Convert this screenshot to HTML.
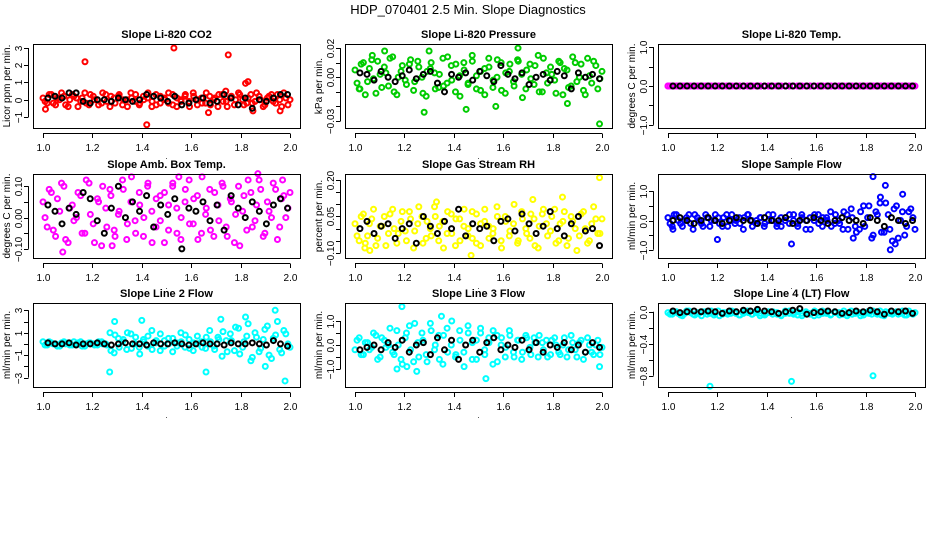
<!DOCTYPE html>
<html><head><meta charset="utf-8"><style>
html,body{margin:0;padding:0;background:#fff;}
svg{display:block;font-family:"Liberation Sans",sans-serif;}
</style></head><body>
<svg id="chart" width="936" height="540" viewBox="0 0 936 540">
<text x="468" y="14" font-size="13" text-anchor="middle">HDP_070401  2.5 Min. Slope Diagnostics</text>
</svg>
<script>
// ---- data ----
const co2Color=[0.1,-0.2,0.3,-0.3,0.0,0.2,-0.4,0.3,0.1,-0.1,0.4,-0.3,0.2,0.0,-0.2,0.3,-0.4,0.1,0.2,-0.3,0.0,0.4,-0.1,-0.3,0.2,0.1,-0.4,0.3,-0.2,0.0,0.4,-0.3,0.1,-0.1,0.3,-0.4,0.2,0.0,-0.2,0.4,-0.3,0.1,0.3,-0.1,-0.4,0.2,0.0,0.3,-0.3,0.1,-0.2,0.4,0.0,-0.3,0.2,-0.1,0.3,-0.4,0.1,0.0];
const co2ColorB=[-0.1,0.3,-0.2,0.1,0.4,-0.3,0.0,0.2,-0.4,0.1,-0.2,0.3,0.0,-0.3,0.4,-0.1,0.2,-0.2,0.3,0.0,-0.4,0.1,0.3,-0.2,0.0,0.4,-0.1,-0.3,0.2,0.1,-0.2,0.3,-0.4,0.0,0.2,-0.1,0.4,-0.3,0.1,-0.2,0.2,0.0,-0.4,0.3,-0.1,0.1,-0.3,0.4,0.0,-0.2,0.3,-0.1,0.2,-0.4,0.1,0.3,-0.2,0.0,0.4,-0.3];
const co2Black=[0.1,0.2,0.1,0.4,0.4,-0.1,-0.2,0.0,0.0,-0.1,0.1,0.0,-0.1,0.0,0.3,0.2,0.1,-0.1,0.2,-0.3,-0.2,0.0,0.1,-0.2,-0.1,0.3,0.1,-0.3,0.1,-0.5,0.0,-0.1,0.1,0.3,0.3];
const co2OutX=[1.17,1.53,1.75,1.82,1.83,1.42,1.67,1.85,1.01,1.96,1.74];
const co2OutY=[2.2,3.0,2.6,0.95,1.05,-1.45,-0.75,-0.65,-0.55,-0.65,0.5];

const presColor=[0.005,-0.008,0.010,-0.003,0.012,-0.011,0.002,0.007,-0.006,0.014,-0.012,0.004,-0.002,0.009,-0.009,0.011,0.000,-0.013,0.006,0.003,-0.007,0.013,-0.004,0.008,-0.010,0.001,0.010,-0.005,0.015,-0.008,0.004,-0.012,0.007,-0.002,0.012,-0.009,0.003,0.009,-0.006,0.011,-0.014,0.005,-0.001,0.008,-0.010,0.013,-0.004,0.002,-0.011,0.010,0.006,-0.007,0.014,-0.003,0.009,-0.012,0.001,0.011,-0.008,0.004];
const presColorB=[-0.004,0.009,-0.012,0.006,-0.001,0.011,-0.007,0.003,0.013,-0.010,0.000,0.008,-0.005,0.012,-0.003,0.007,-0.011,0.004,0.010,-0.008,0.002,-0.006,0.014,-0.002,0.009,-0.013,0.005,-0.004,0.011,0.001,-0.009,0.006,0.013,-0.007,0.000,0.010,-0.011,0.004,-0.003,0.012,0.002,-0.008,0.009,-0.005,0.015,-0.010,0.003,0.007,-0.002,0.011,-0.012,0.005,-0.006,0.010,0.000,-0.009,0.013,-0.004,0.008,-0.001];
const presBlack=[0.003,0.002,-0.002,0.004,0.000,-0.003,0.001,0.005,-0.001,0.002,0.004,-0.004,-0.010,0.002,0.000,0.003,-0.002,0.004,0.001,-0.003,0.008,0.002,-0.001,0.003,-0.005,0.000,0.002,-0.002,0.004,0.001,-0.008,0.003,0.000,0.002,-0.001];
const presOutX=[1.02,1.12,1.30,1.28,1.66,1.99,1.86,1.57,1.45,1.07];
const presOutY=[-0.008,0.018,0.018,-0.024,0.020,-0.032,-0.018,-0.020,-0.022,0.015];

const tempColor=[0,0,0,0,0,0,0,0,0,0,0,0,0,0,0,0,0,0,0,0,0,0,0,0,0,0,0,0,0,0,0,0,0,0,0,0,0,0,0,0,0,0,0,0,0,0,0,0,0,0,0,0,0,0,0,0,0,0,0,0];
const tempColorB=[0,0,0,0,0,0,0,0,0,0,0,0,0,0,0,0,0,0,0,0,0,0,0,0,0,0,0,0,0,0,0,0,0,0,0,0,0,0,0,0,0,0,0,0,0,0,0,0,0,0,0,0,0,0,0,0,0,0,0,0];
const tempBlack=[0,0,0,0,0,0,0,0,0,0,0,0,0,0,0,0,0,0,0,0,0,0,0,0,0,0,0,0,0,0,0,0,0,0,0];
const tempOutX=[1.0];
const tempOutY=[0];

const boxColor=[0.05,-0.03,0.08,-0.06,0.02,0.10,-0.08,0.04,0.00,0.07,-0.05,0.11,-0.02,0.06,-0.09,0.03,0.09,-0.04,0.01,0.12,-0.07,0.05,-0.01,0.08,-0.06,0.10,0.02,-0.03,0.07,-0.08,0.04,0.11,-0.05,0.00,0.09,-0.02,0.06,-0.07,0.13,0.03,-0.04,0.08,-0.01,0.10,-0.06,0.05,0.01,-0.09,0.07,0.12,-0.03,0.04,0.09,-0.05,0.02,0.11,-0.07,0.06,0.00,0.08];
const boxColorB=[0.00,0.09,-0.04,0.06,0.11,-0.07,0.03,-0.01,0.08,-0.05,0.12,0.01,-0.08,0.05,0.10,-0.03,0.07,-0.06,0.02,0.09,-0.02,0.13,-0.05,0.04,0.00,0.11,-0.08,0.06,-0.01,0.08,-0.04,0.10,0.03,-0.07,0.05,0.12,-0.02,0.07,-0.05,0.01,0.09,-0.06,0.04,0.11,-0.03,0.06,-0.08,0.10,0.02,-0.04,0.08,-0.01,0.12,-0.06,0.05,0.00,0.09,-0.03,0.07,0.03];
const boxBlack=[0.04,0.02,-0.02,0.03,0.01,0.08,0.06,-0.01,-0.05,0.03,0.10,0.00,0.05,0.02,0.07,-0.03,0.04,0.01,0.06,-0.10,0.03,0.02,0.05,-0.01,0.04,-0.04,0.07,0.03,0.00,0.05,0.02,-0.02,0.04,0.06,0.03];
const boxOutX=[1.08,1.87,1.97,1.28,1.55];
const boxOutY=[-0.11,0.14,0.12,-0.09,0.13];

const rhColor=[0.02,-0.05,0.06,-0.03,0.04,-0.07,0.01,0.05,-0.02,0.08,-0.06,0.03,-0.01,0.07,-0.08,0.02,0.05,-0.04,0.00,0.09,-0.05,0.03,-0.02,0.06,-0.07,0.04,0.01,-0.03,0.07,-0.06,0.02,0.08,-0.04,0.00,0.05,-0.08,0.03,-0.01,0.10,-0.05,0.04,-0.02,0.06,-0.07,0.01,0.08,-0.03,0.05,-0.06,0.02,0.07,-0.04,0.03,-0.09,0.06,0.00,-0.05,0.09,-0.02,0.04];
const rhColorB=[-0.03,0.05,-0.06,0.02,0.08,-0.04,0.01,-0.07,0.06,0.00,-0.02,0.07,-0.05,0.04,-0.01,0.09,-0.06,0.03,-0.03,0.05,0.01,-0.08,0.07,-0.02,0.04,-0.05,0.08,0.00,-0.04,0.06,-0.07,0.03,0.01,-0.02,0.09,-0.05,0.05,-0.03,0.02,-0.06,0.07,0.00,-0.04,0.04,-0.08,0.06,0.02,-0.01,0.08,-0.05,0.03,-0.07,0.05,0.00,-0.03,0.07,-0.06,0.02,0.04,-0.02];
const rhBlack=[0.00,0.03,-0.02,0.01,0.02,-0.04,0.00,0.02,-0.06,0.05,0.01,-0.02,0.03,0.00,0.08,-0.03,0.02,0.00,0.01,-0.05,0.03,0.04,-0.01,0.06,0.02,-0.02,0.01,0.07,0.00,-0.03,0.02,0.05,-0.01,0.00,-0.07];
const rhOutX=[1.99,1.47,1.04,1.33,1.72,1.06,1.84];
const rhOutY=[0.21,-0.11,-0.08,0.11,0.12,-0.09,0.13];

const flowColor=[0.1,-0.2,0.2,-0.1,0.0,0.2,-0.3,0.1,-0.1,0.2,-0.2,0.0,0.1,-0.2,0.2,0.0,-0.1,0.1,-0.3,0.2,0.0,-0.1,0.1,-0.2,0.2,0.0,-0.2,0.1,0.0,-0.1,0.2,-0.2,0.1,0.0,-0.3,0.2,-0.1,0.1,0.0,-0.2,0.2,-0.1,0.3,-0.3,0.1,-0.4,0.3,-0.2,0.5,-0.5,0.2,-0.4,0.6,-0.3,0.4,-0.6,0.3,-0.2,0.4,-0.3];
const flowColorB=[-0.1,0.2,0.0,-0.2,0.1,-0.1,0.2,0.0,-0.2,0.1,0.0,0.2,-0.1,0.1,-0.2,0.2,0.0,-0.1,0.1,0.2,-0.2,0.0,0.1,-0.1,0.0,0.2,-0.1,-0.2,0.1,0.2,0.0,-0.1,0.2,-0.3,0.1,0.0,0.2,-0.2,0.1,0.3,-0.1,0.0,-0.3,0.2,0.4,-0.2,-0.3,0.5,0.1,-0.6,0.3,0.6,-0.4,0.2,-0.7,0.5,0.0,-0.5,0.3,0.1];
const flowBlack=[0.0,0.1,0.0,-0.1,0.0,0.1,0.0,-0.1,0.0,0.1,0.0,0.0,-0.1,0.1,0.0,0.0,0.1,-0.1,0.0,0.0,0.1,0.0,-0.1,0.0,0.1,0.0,0.0,-0.1,0.1,0.0,-0.2,0.1,0.0,-0.1,0.0];
const flowOutX=[1.83,1.88,1.95,1.90,1.50,1.20,1.75,1.86,1.92,1.02];
const flowOutY=[1.5,1.2,0.9,-1.0,-0.8,-0.65,-0.6,0.8,-0.8,-0.3];

const l2Color=[0.2,-0.1,0.1,0.0,-0.2,0.2,0.1,-0.1,0.0,0.2,-0.2,0.1,0.0,-0.1,0.2,0.0,1.0,-0.8,0.5,0.2,-0.5,0.9,0.0,-0.3,0.4,-0.2,1.2,0.1,-0.6,0.3,0.0,0.5,-0.2,0.2,0.8,-0.4,0.1,0.0,-0.3,0.6,0.2,-0.5,0.4,1.1,-0.7,0.3,1.5,-0.9,0.2,1.8,-1.2,0.6,-0.4,1.3,-1.0,0.5,2.0,-0.8,0.9,-0.3];
const l2ColorB=[-0.1,0.2,0.0,-0.2,0.1,0.0,-0.1,0.2,0.1,-0.2,0.0,0.1,-0.1,0.2,0.0,-0.1,-0.6,0.8,-0.3,0.4,1.0,-0.4,0.6,-0.9,0.2,0.7,-0.5,0.3,0.9,-0.2,0.5,-0.7,0.1,1.0,-0.3,0.4,-0.6,0.7,0.2,-0.4,1.2,-0.2,0.6,-1.1,0.3,0.9,-0.6,1.4,-0.3,0.7,-1.5,1.0,-0.7,0.4,1.6,-1.3,0.8,-0.5,1.2,0.0];
const l2Black=[0.1,0.0,0.0,0.1,-0.1,0.0,0.0,0.1,0.0,-0.1,0.0,0.1,0.0,0.0,-0.1,0.1,0.0,0.0,0.1,0.0,-0.1,0.0,0.1,0.0,0.0,-0.1,0.1,0.0,0.0,0.1,0.0,-0.1,0.3,0.0,-0.2];
const l2OutX=[1.94,1.40,1.27,1.66,1.98,1.29,1.72,1.82,1.90];
const l2OutY=[3.0,2.1,-2.5,-2.5,-3.3,2.0,2.2,2.4,-2.0];

const l3Color=[-0.2,0.3,-0.4,0.1,-0.1,0.4,-0.5,0.2,0.0,-0.3,0.6,-0.6,0.3,0.8,-0.7,0.1,0.5,-0.4,0.9,-0.2,0.4,-0.8,0.7,0.0,-0.5,0.6,-0.3,0.8,-0.6,0.2,0.5,-0.4,0.1,0.6,-0.7,0.3,-0.1,0.4,-0.5,0.2,-0.3,0.3,-0.4,0.1,0.4,-0.2,-0.5,0.2,0.0,-0.4,0.3,-0.2,0.1,-0.5,0.2,-0.3,0.0,-0.4,0.2,-0.1];
const l3ColorB=[0.2,-0.4,0.1,-0.2,0.5,-0.6,0.3,-0.1,0.7,-0.4,0.0,-0.8,0.5,-0.2,0.9,-0.5,0.2,-0.7,0.6,0.0,-0.6,0.4,-0.3,1.0,-0.4,0.2,-0.9,0.5,0.1,-0.6,0.7,-0.2,0.3,-0.8,0.4,0.0,-0.5,0.6,-0.3,0.2,-0.6,0.4,-0.1,0.3,-0.5,0.1,0.2,-0.4,0.3,-0.3,0.0,-0.5,0.4,-0.2,0.1,-0.6,0.3,-0.3,0.0,-0.4];
const l3Black=[-0.2,-0.1,0.0,-0.2,0.1,-0.1,0.2,-0.3,0.0,0.1,-0.4,0.3,-0.2,0.2,-0.6,0.0,0.2,-0.3,0.1,0.3,-0.2,0.0,-0.1,0.2,-0.2,0.1,-0.3,0.0,-0.1,0.1,-0.2,0.0,-0.3,0.1,-0.1];
const l3OutX=[1.19,1.53,1.25,1.35,1.99,1.21,1.17];
const l3OutY=[1.6,-1.4,-1.1,1.2,-0.9,-0.9,-1.0];

const l4Color=[-0.01,-0.03,0.00,-0.04,-0.02,0.01,-0.03,-0.01,-0.05,0.00,-0.02,-0.04,0.01,-0.03,-0.01,-0.02,0.00,-0.04,-0.02,0.01,-0.03,-0.01,-0.05,-0.02,0.00,-0.03,-0.01,-0.04,0.01,-0.02,-0.03,0.00,-0.05,-0.01,-0.02,0.01,-0.04,-0.02,0.00,-0.03,-0.01,-0.04,0.01,-0.02,-0.03,0.00,-0.05,-0.01,-0.02,0.01,-0.03,-0.04,0.00,-0.02,-0.01,-0.03,0.01,-0.04,-0.02,-0.01];
const l4ColorB=[-0.03,0.00,-0.02,-0.05,0.01,-0.01,-0.04,-0.02,0.00,-0.03,0.01,-0.02,-0.05,-0.01,-0.03,0.01,-0.02,-0.04,0.00,-0.01,-0.03,0.01,-0.02,-0.04,-0.01,0.00,-0.03,-0.05,-0.02,0.01,-0.01,-0.04,-0.02,0.00,-0.03,-0.05,-0.01,0.01,-0.02,-0.04,0.00,-0.01,-0.03,-0.05,0.01,-0.02,-0.01,-0.04,0.00,-0.03,-0.02,0.01,-0.05,-0.01,-0.03,0.00,-0.02,-0.04,0.01,-0.03];
const l4Black=[0.01,-0.01,0.00,0.01,0.00,0.01,0.00,-0.02,0.01,0.00,0.02,0.01,0.03,0.01,0.00,-0.02,0.00,0.02,0.04,-0.03,-0.01,0.00,0.01,0.00,-0.02,-0.01,0.01,0.00,0.02,0.00,-0.03,0.01,0.00,0.01,-0.02];
const l4OutX=[1.17,1.50,1.83];
const l4OutY=[-0.93,-0.87,-0.80];

const xTicks=[1.0,1.2,1.4,1.6,1.8,2.0];
const xTickLabels=["1.0","1.2","1.4","1.6","1.8","2.0"];

// ---- layout ----
const panels=[
 {key:"co2",title:"Slope Li-820 CO2",ylab:"Licor ppm per min.",col:0,row:0,color:"#ff0000",ymin:-1.64,ymax:3.23,ticks:[-1,0,1,2,3],labels:["−1","0","1","2","3"],c:co2Color,c2:co2ColorB,k:co2Black,ox:co2OutX,oy:co2OutY},
 {key:"pressure",title:"Slope Li-820 Pressure",ylab:"kPa per min.",col:1,row:0,color:"#00cc00",ymin:-0.0348,ymax:0.0228,ticks:[-0.03,-0.02,-0.01,0,0.01,0.02],labels:["−0.03","","","0.00","","0.02"],c:presColor,c2:presColorB,k:presBlack,ox:presOutX,oy:presOutY},
 {key:"temp",title:"Slope Li-820 Temp.",ylab:"degrees C per min.",col:2,row:0,color:"#ff00ff",ymin:-1.08,ymax:1.08,ticks:[-1,-0.5,0,0.5,1],labels:["−1.0","","0.0","","1.0"],c:tempColor,c2:tempColorB,k:tempBlack,ox:tempOutX,oy:tempOutY},
 {key:"ambbox",title:"Slope Amb. Box Temp.",ylab:"degrees C per min.",col:0,row:1,color:"#ff00ff",ymin:-0.129,ymax:0.139,ticks:[-0.1,-0.05,0,0.05,0.1],labels:["−0.10","","0.00","","0.10"],c:boxColor,c2:boxColorB,k:boxBlack,ox:boxOutX,oy:boxOutY},
 {key:"rh",title:"Slope Gas Stream RH",ylab:"percent per min.",col:1,row:1,color:"#ffff00",ymin:-0.121,ymax:0.225,ticks:[-0.1,-0.05,0,0.05,0.1,0.15,0.2],labels:["−0.10","","","0.05","","","0.20"],c:rhColor,c2:rhColorB,k:rhBlack,ox:rhOutX,oy:rhOutY},
 {key:"sampleflow",title:"Slope Sample Flow",ylab:"ml/min per min.",col:2,row:1,color:"#0000ff",ymin:-1.28,ymax:1.59,ticks:[-1,-0.5,0,0.5,1],labels:["−1.0","","0.0","","1.0"],c:flowColor,c2:flowColorB,k:flowBlack,ox:flowOutX,oy:flowOutY},
 {key:"line2",title:"Slope Line 2 Flow",ylab:"ml/min per min.",col:0,row:2,color:"#00ffff",ymin:-3.84,ymax:3.65,ticks:[-3,-2,-1,0,1,2,3],labels:["−3","","−1","","1","","3"],c:l2Color,c2:l2ColorB,k:l2Black,ox:l2OutX,oy:l2OutY},
 {key:"line3",title:"Slope Line 3 Flow",ylab:"ml/min per min.",col:1,row:2,color:"#00ffff",ymin:-1.75,ymax:1.75,ticks:[-1,-0.5,0,0.5,1],labels:["−1.0","","0.0","","1.0"],c:l3Color,c2:l3ColorB,k:l3Black,ox:l3OutX,oy:l3OutY},
 {key:"line4",title:"Slope Line 4 (LT) Flow",ylab:"ml/min per min.",col:2,row:2,color:"#00ffff",ymin:-0.94,ymax:0.11,ticks:[-0.8,-0.6,-0.4,-0.2,0],labels:["−0.8","","−0.4","","0.0"],c:l4Color,c2:l4ColorB,k:l4Black,ox:l4OutX,oy:l4OutY}
];
const colLeft=[33,345,658], boxW=267, rowTop=[44,174,303], boxH=84;
const NS="http://www.w3.org/2000/svg";
const svg=document.getElementById("chart");
function mk(tag,attrs,parent){const e=document.createElementNS(NS,tag);for(const a in attrs)e.setAttribute(a,attrs[a]);parent.appendChild(e);return e;}

panels.forEach(p=>{
  const L=colLeft[p.col], T=rowTop[p.row], R=L+boxW, B=T+boxH;
  const x0=L+10, x1=R-10;
  const xs=v=>x0+(v-1)*(x1-x0);
  const ys=v=>B-(v-p.ymin)/(p.ymax-p.ymin)*boxH;
  const g=mk("g",{},svg);
  
  
  const t=mk("text",{x:(L+R)/2,y:T-6,"font-size":"11","font-weight":"bold","text-anchor":"middle"},g);
  t.textContent=p.title;
  
  
  const yl=mk("text",{x:0,y:0,"font-size":"10","text-anchor":"middle",transform:`translate(${L-23},${(T+B)/2}) rotate(-90)`},g);
  yl.textContent=p.ylab;
  
  
  // points
  const pts=mk("g",{fill:"none","stroke-width":"2"},g);
  
  
  p.c.forEach((v,i)=>{
    const c=mk("circle",{cx:xs(1+i/(p.c.length-1)),cy:ys(v),r:2.5,stroke:p.color},pts);
    
    
  });
  p.c2.forEach((v,i)=>{
    const c=mk("circle",{cx:xs(1+(i+0.5)/p.c2.length),cy:ys(v),r:2.5,stroke:p.color},pts);
    
    
  });
  p.ox.forEach((v,i)=>{
    const c=mk("circle",{cx:xs(v),cy:ys(p.oy[i]),r:2.5,stroke:p.color},pts);
    
    
  });
  p.k.forEach((v,i)=>{
    const c=mk("circle",{cx:xs(1.02+0.97*i/(p.k.length-1)),cy:ys(v),r:2.5,stroke:"#000"},pts);
    
    
  });
  // box
  const bx=mk("rect",{x:L+0.5,y:T+0.5,width:boxW,height:boxH,fill:"none",stroke:"#000"},g);
  
  
  // x axis
  const xa=mk("g",{},g);
  
  
  mk("line",{x1:xs(1),x2:xs(2),y1:B+5.5,y2:B+5.5,stroke:"#000"},xa);
  xTicks.forEach((v,i)=>{
    const X=Math.round(xs(v))+0.5;
    mk("line",{x1:X,x2:X,y1:B+5.5,y2:B+10,stroke:"#000"},xa);
    const tl=mk("text",{x:X,y:B+23,"font-size":"10","text-anchor":"middle"},xa);
    tl.textContent=xTickLabels[i];
    
    
  });
  const dot=mk("text",{x:(L+R)/2,y:B+31,"font-size":"8","text-anchor":"middle"},xa);
  dot.textContent=".";
  // y axis
  const ya=mk("g",{},g);
  
  
  mk("line",{x1:L-4.5,x2:L-4.5,y1:ys(p.ticks[0]),y2:ys(p.ticks[p.ticks.length-1]),stroke:"#000"},ya);
  p.ticks.forEach((v,i)=>{
    const Y=Math.round(ys(v))+0.5;
    mk("line",{x1:L-9,x2:L-4.5,y1:Y,y2:Y,stroke:"#000"},ya);
    if(p.labels[i]){
      const tl=mk("text",{x:0,y:0,"font-size":"10","text-anchor":"middle",transform:`translate(${L-11},${Y}) rotate(-90)`},ya);
      tl.textContent=p.labels[i];
      
      
    }
  });
});
</script>
</body></html>
